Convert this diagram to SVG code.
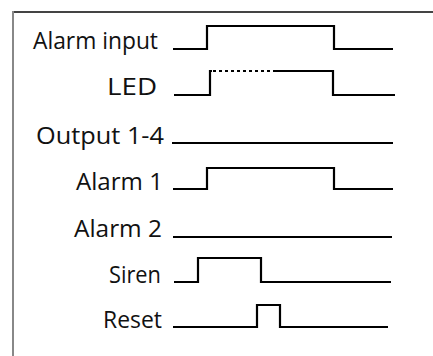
<svg xmlns="http://www.w3.org/2000/svg" width="433" height="356" viewBox="0 0 433 356">
<style>
.lbl{font-family:"Open Sans","Noto Sans",sans-serif;font-size:24px;fill:#111}
.sig{fill:none;stroke:#000;stroke-width:2.2;stroke-linejoin:miter}
.dot{fill:none;stroke:#000;stroke-width:2.2;stroke-dasharray:3 3}
</style>
<rect width="433" height="356" fill="#fff"/>
<g id="frame">
<line x1="13" y1="12" x2="433" y2="12" stroke="#444" stroke-width="2"/>
<line x1="13" y1="11" x2="13" y2="356" stroke="#888" stroke-width="2"/>
</g>
<g id="alarm-input">
<text class="lbl" x="33" y="49" textLength="125" lengthAdjust="spacingAndGlyphs">Alarm input</text>
<polyline class="sig" points="173,49 207,49 207,26 334,26 334,49 393,49"/>
</g>
<g id="led">
<text class="lbl" x="107" y="95" textLength="50" lengthAdjust="spacingAndGlyphs">LED</text>
<polyline class="sig" points="174,95 210,95 210,71 212,71"/>
<line class="dot" x1="213" y1="71" x2="275" y2="71"/>
<polyline class="sig" points="275,71 333,71 333,95 395,95"/>
</g>
<g id="output-1-4">
<text class="lbl" x="36" y="144" textLength="128" lengthAdjust="spacingAndGlyphs">Output 1-4</text>
<line class="sig" x1="172" y1="143" x2="393" y2="143"/>
</g>
<g id="alarm-1">
<text class="lbl" x="76" y="190" textLength="87" lengthAdjust="spacingAndGlyphs">Alarm 1</text>
<polyline class="sig" points="173,189 207,189 207,168 334,168 334,189 393,189"/>
</g>
<g id="alarm-2">
<text class="lbl" x="74" y="237" textLength="88" lengthAdjust="spacingAndGlyphs">Alarm 2</text>
<line class="sig" x1="173" y1="237" x2="392" y2="237"/>
</g>
<g id="siren">
<text class="lbl" x="109" y="283" textLength="52" lengthAdjust="spacingAndGlyphs">Siren</text>
<polyline class="sig" points="174,282 198,282 198,258 261,258 261,282 391,282"/>
</g>
<g id="reset">
<text class="lbl" x="103" y="328" textLength="59" lengthAdjust="spacingAndGlyphs">Reset</text>
<polyline class="sig" points="173,327 257,327 257,305 280,305 280,327 388,327"/>
</g>
<g id="connectors"></g>
</svg>
